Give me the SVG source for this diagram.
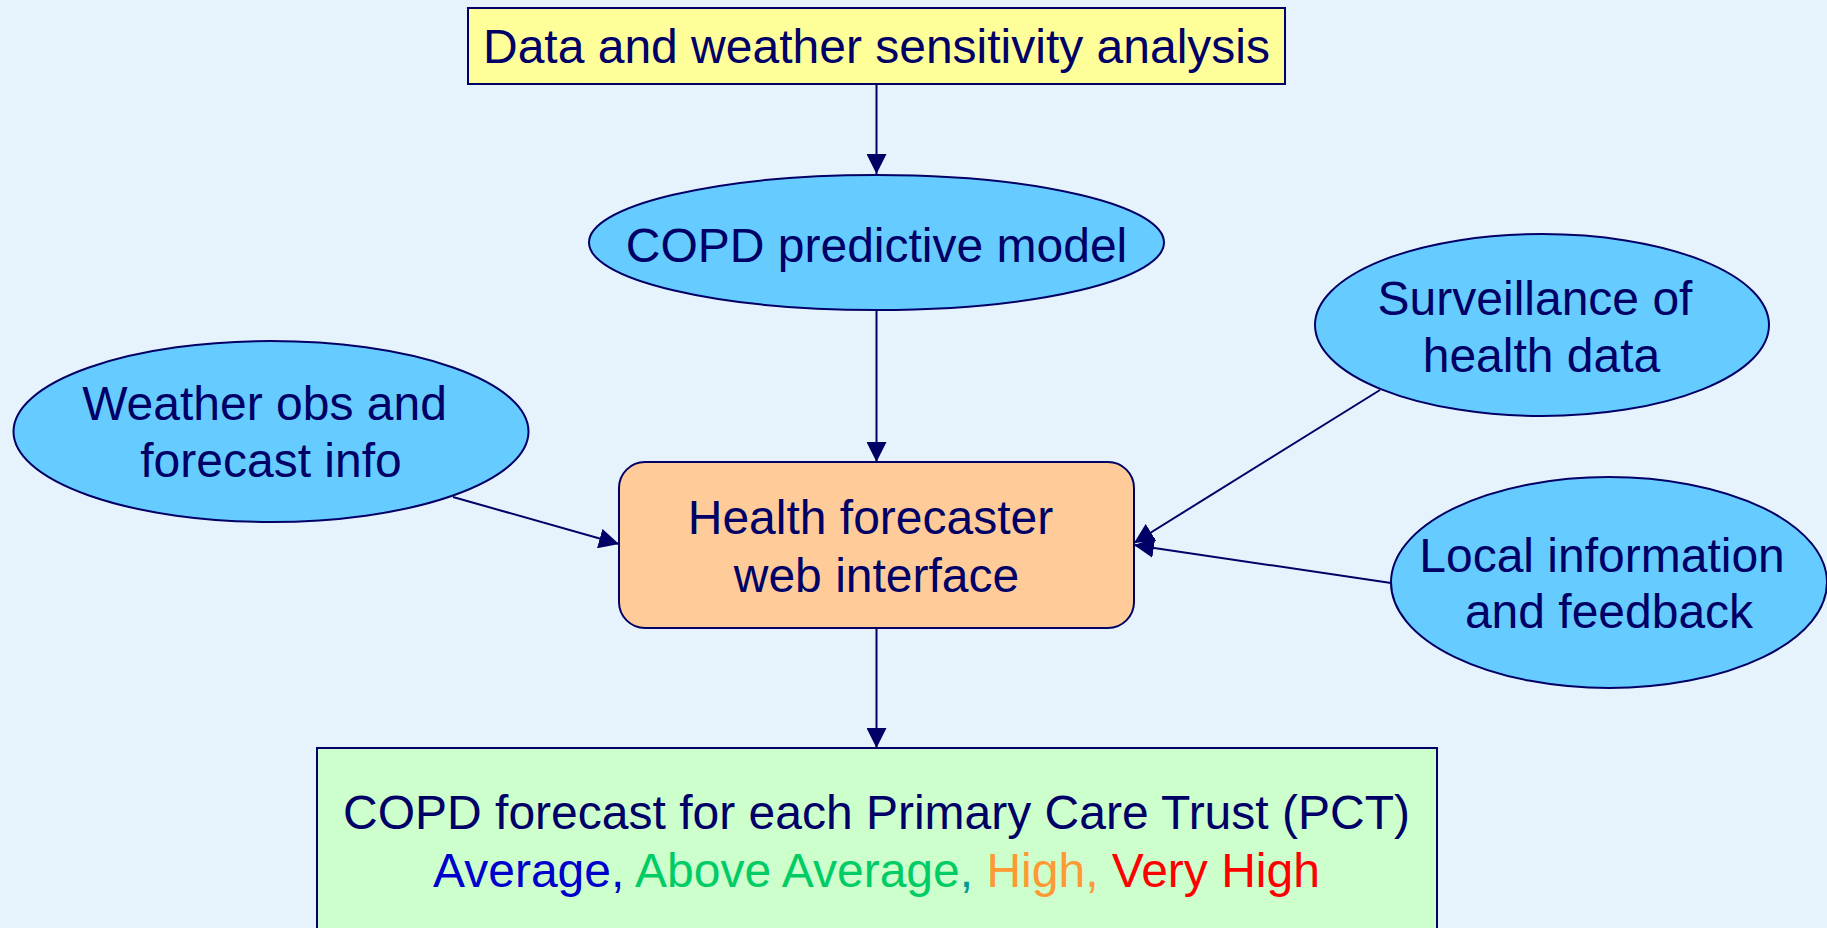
<svg xmlns="http://www.w3.org/2000/svg" width="1827" height="928" viewBox="0 0 1827 928">
  <defs>
    <marker id="arrow" viewBox="0 0 20 20" refX="20" refY="10" markerWidth="20" markerHeight="20" markerUnits="userSpaceOnUse" orient="auto">
      <path d="M0,0 L20,10 L0,20 z" fill="#000066"/>
    </marker>
    <style>
      text { font-family: "Liberation Sans", Arial, sans-serif; font-size: 48px; fill: #000066; text-anchor: middle; }
      .node { stroke: #000066; stroke-width: 2; }
      .oval { fill: #66CCFF; }
      .edge { stroke: #000066; stroke-width: 2; fill: none; marker-end: url(#arrow); }
    </style>
  </defs>

  <!-- page background -->
  <rect x="0" y="0" width="1827" height="928" fill="#E6F3FC"/>

  <!-- connectors -->
  <g id="connectors">
    <line class="edge" x1="876.5" y1="84" x2="876.5" y2="174"/>
    <line class="edge" x1="876.5" y1="310" x2="876.5" y2="462"/>
    <line class="edge" x1="876.5" y1="628" x2="876.5" y2="748"/>
    <line class="edge" x1="453" y1="497" x2="619" y2="544"/>
    <line class="edge" x1="1380" y1="390" x2="1134" y2="543"/>
    <line class="edge" x1="1391" y1="583" x2="1134" y2="545"/>
  </g>

  <!-- data analysis box -->
  <g id="analysis">
    <rect class="node" x="468" y="8" width="817" height="76" fill="#FFFF99"/>
    <text x="876.5" y="63">Data and weather sensitivity analysis</text>
  </g>

  <!-- predictive model -->
  <g id="model">
    <ellipse class="node oval" cx="876.5" cy="242.5" rx="287.5" ry="67.5"/>
    <text x="876.5" y="262">COPD predictive model</text>
  </g>

  <!-- weather input -->
  <g id="weather">
    <ellipse class="node oval" cx="271" cy="431.5" rx="257.5" ry="90.5"/>
    <text x="264.5" y="420">Weather obs and</text>
    <text x="271" y="477">forecast info</text>
  </g>

  <!-- surveillance input -->
  <g id="surveillance">
    <ellipse class="node oval" cx="1542" cy="325" rx="227" ry="91"/>
    <text x="1535" y="315">Surveillance of</text>
    <text x="1541.5" y="372">health data</text>
  </g>

  <!-- local feedback input -->
  <g id="local">
    <ellipse class="node oval" cx="1609" cy="582.5" rx="218" ry="105.5"/>
    <text x="1602" y="572">Local information</text>
    <text x="1609" y="628">and feedback</text>
  </g>

  <!-- web interface -->
  <g id="interface">
    <rect class="node" x="619" y="462" width="515" height="166" rx="26" ry="26" fill="#FFCC99"/>
    <text x="870.5" y="534">Health forecaster</text>
    <text x="876.5" y="592">web interface</text>
  </g>

  <!-- forecast output -->
  <g id="forecast">
    <rect class="node" x="317" y="748" width="1120" height="200" fill="#CCFFCC"/>
    <text x="876.5" y="829">COPD forecast for each Primary Care Trust (PCT)</text>
    <text x="876.5" y="887"><tspan fill="#0000CC">Average, </tspan><tspan fill="#00CC66">Above Average</tspan><tspan fill="#009999">, </tspan><tspan fill="#FF9933">High, </tspan><tspan fill="#FF0000">Very High</tspan></text>
  </g>
</svg>
